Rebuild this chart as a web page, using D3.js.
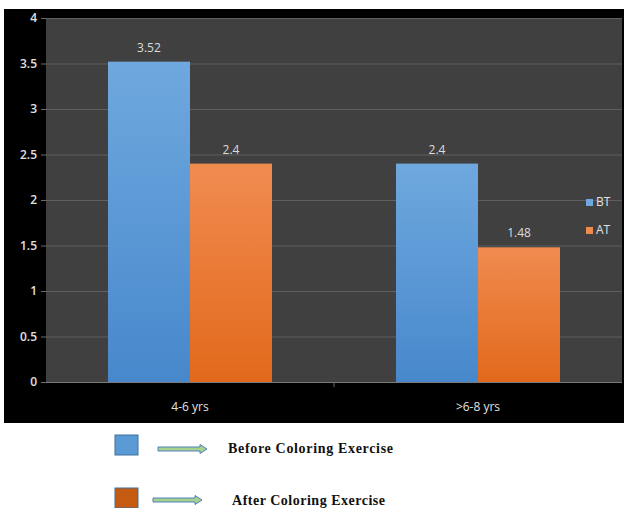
<!DOCTYPE html>
<html>
<head>
<meta charset="utf-8">
<script src="https://cdn.jsdelivr.net/npm/d3@7"></script>
<style>
  body { margin: 0; background: #fff; }
  svg { display: block; }
</style>
</head>
<body>
<div id="chart"></div>
<script>
// data
var categories = ["4-6 yrs", ">6-8 yrs"];
var seriesNames = ["BT", "AT"];
var btValues = [3.52, 2.4];
var atValues = [2.4, 1.48];
var yTicks = [0, 0.5, 1, 1.5, 2, 2.5, 3, 3.5, 4];
var keyLabels = ["Before Coloring Exercise", "After Coloring Exercise"];

var colors = {
    BT: { top: "#6fa8de", bottom: "#4788cc" },
    AT: { top: "#f08b50", bottom: "#e2691b" }
};

var W = 625, H = 508;
var plot = { left: 46, right: 622, top: 18, bottom: 382 };

var svg = d3.select("#chart").append("svg")
    .attr("width", W)
    .attr("height", H);

// gradients for the bars
var defs = svg.append("defs");
seriesNames.forEach(function (s) {
    var g = defs.append("linearGradient")
        .attr("id", "grad" + s)
        .attr("x1", "0%").attr("y1", "0%")
        .attr("x2", "0%").attr("y2", "100%");
    g.append("stop").attr("offset", "0%").attr("stop-color", colors[s].top);
    g.append("stop").attr("offset", "100%").attr("stop-color", colors[s].bottom);
});

// black frame and dark plot area
svg.append("rect")
    .attr("x", 4).attr("y", 9)
    .attr("width", 620).attr("height", 414)
    .attr("fill", "#000");

svg.append("rect")
    .attr("x", plot.left).attr("y", plot.top)
    .attr("width", plot.right - plot.left)
    .attr("height", plot.bottom - plot.top)
    .attr("fill", "#404040");

// scales
var y = d3.scaleLinear().domain([0, 4]).range([plot.bottom, plot.top]);
var x0 = d3.scaleBand().domain(categories).range([plot.left, plot.right]);
var x1 = d3.scaleBand().domain(seriesNames)
    .range([0, x0.bandwidth()])
    .paddingInner(0)
    .paddingOuter(0.756);

// gridlines
svg.append("g")
    .selectAll("line")
    .data(yTicks.filter(function (d) { return d > 0; }))
    .enter().append("line")
    .attr("x1", plot.left).attr("x2", plot.right)
    .attr("y1", function (d) { return y(d) + 0.5; })
    .attr("y2", function (d) { return y(d) + 0.5; })
    .attr("stroke", "#5f5f5f")
    .attr("stroke-width", 1);

// y axis
var yAxis = d3.axisLeft(y).tickValues(yTicks).tickSize(5).tickPadding(4)
    .tickFormat(function (d) { return d; });
var yNode = svg.append("g")
    .attr("transform", "translate(" + plot.left + ",0)")
    .call(yAxis);
yNode.select(".domain").remove();
yNode.selectAll("line").attr("stroke", "#6a6a6a");
yNode.selectAll("text")
    .attr("fill", "#e0e0e0")
    .style("font-family", "'Open Sans', sans-serif")
    .style("font-size", "12px")
    .style("font-weight", "600");

// x axis
var xNode = svg.append("g")
    .attr("transform", "translate(0," + plot.bottom + ")");
xNode.append("line")
    .attr("x1", plot.left).attr("x2", plot.right)
    .attr("y1", 0.5).attr("y2", 0.5)
    .attr("stroke", "#7a7a7a");
xNode.selectAll(".xtick")
    .data(categories.slice(1))
    .enter().append("line")
    .attr("class", "xtick")
    .attr("x1", function (d) { return x0(d); })
    .attr("x2", function (d) { return x0(d); })
    .attr("y1", 0).attr("y2", 5)
    .attr("stroke", "#6a6a6a");
xNode.selectAll(".xlabel")
    .data(categories)
    .enter().append("text")
    .attr("class", "xlabel")
    .attr("x", function (d) { return x0(d) + x0.bandwidth() / 2; })
    .attr("y", 29)
    .attr("text-anchor", "middle")
    .attr("fill", "#e0e0e0")
    .style("font-family", "'Open Sans', sans-serif")
    .style("font-size", "12px")
    .text(function (d) { return d; });

// bars
var rows = categories.map(function (c, i) {
    return { cat: c, values: [{ s: "BT", v: btValues[i] }, { s: "AT", v: atValues[i] }] };
});

var groups = svg.selectAll(".grp")
    .data(rows)
    .enter().append("g")
    .attr("class", "grp")
    .attr("transform", function (d) { return "translate(" + x0(d.cat) + ",0)"; });

groups.selectAll("rect")
    .data(function (d) { return d.values; })
    .enter().append("rect")
    .attr("x", function (d) { return x1(d.s); })
    .attr("y", function (d) { return y(d.v); })
    .attr("width", x1.bandwidth())
    .attr("height", function (d) { return y(0) - y(d.v); })
    .attr("fill", function (d) { return "url(#grad" + d.s + ")"; });

groups.selectAll(".val")
    .data(function (d) { return d.values; })
    .enter().append("text")
    .attr("class", "val")
    .attr("x", function (d) { return x1(d.s) + x1.bandwidth() / 2; })
    .attr("y", function (d) { return y(d.v) - 10; })
    .attr("text-anchor", "middle")
    .attr("fill", "#dcdcdc")
    .style("font-family", "'Open Sans', sans-serif")
    .style("font-size", "12px")
    .text(function (d) { return d.v; });

// in-chart legend
var leg = svg.append("g").attr("transform", "translate(586,199)");
seriesNames.forEach(function (s, i) {
    var row = leg.append("g").attr("transform", "translate(0," + (i * 28) + ")");
    row.append("rect")
        .attr("width", 7).attr("height", 7)
        .attr("fill", colors[s].top);
    row.append("text")
        .attr("x", 10).attr("y", 7)
        .attr("fill", "#e0e0e0")
        .style("font-family", "'Open Sans', sans-serif")
        .style("font-size", "12px")
        .text(s);
});

// key below the chart
var keyColors = ["#5b9bd5", "#c55a11"];
var keyRows = [
    { box: [115, 435], arrow: [158, 449], text: [228, 453], len: 165 },
    { box: [115, 488], arrow: [153, 500], text: [232, 505], len: 153 }
];
keyLabels.forEach(function (label, i) {
    var k = keyRows[i];
    svg.append("rect")
        .attr("x", k.box[0]).attr("y", k.box[1])
        .attr("width", 23).attr("height", 20)
        .attr("fill", keyColors[i])
        .attr("stroke", "#41719c")
        .attr("stroke-width", 1);
    var ax = k.arrow[0], ay = k.arrow[1], len = 49;
    var arrowPath = "M" + ax + "," + (ay - 2) +
        "L" + (ax + len - 7) + "," + (ay - 2) +
        "L" + (ax + len - 7) + "," + (ay - 4.5) +
        "L" + (ax + len) + "," + ay +
        "L" + (ax + len - 7) + "," + (ay + 4.5) +
        "L" + (ax + len - 7) + "," + (ay + 2) +
        "L" + ax + "," + (ay + 2) + "Z";
    svg.append("path")
        .attr("d", arrowPath)
        .attr("fill", "#a9d18e")
        .attr("stroke", "#4f81bd")
        .attr("stroke-width", 1);
    svg.append("text")
        .attr("x", k.text[0]).attr("y", k.text[1])
        .attr("fill", "#111")
        .attr("textLength", k.len)
        .attr("lengthAdjust", "spacing")
        .style("font-family", "'Liberation Serif', serif")
        .style("font-size", "14px")
        .style("font-weight", "bold")
        .text(label);
});
</script>
</body>
</html>
